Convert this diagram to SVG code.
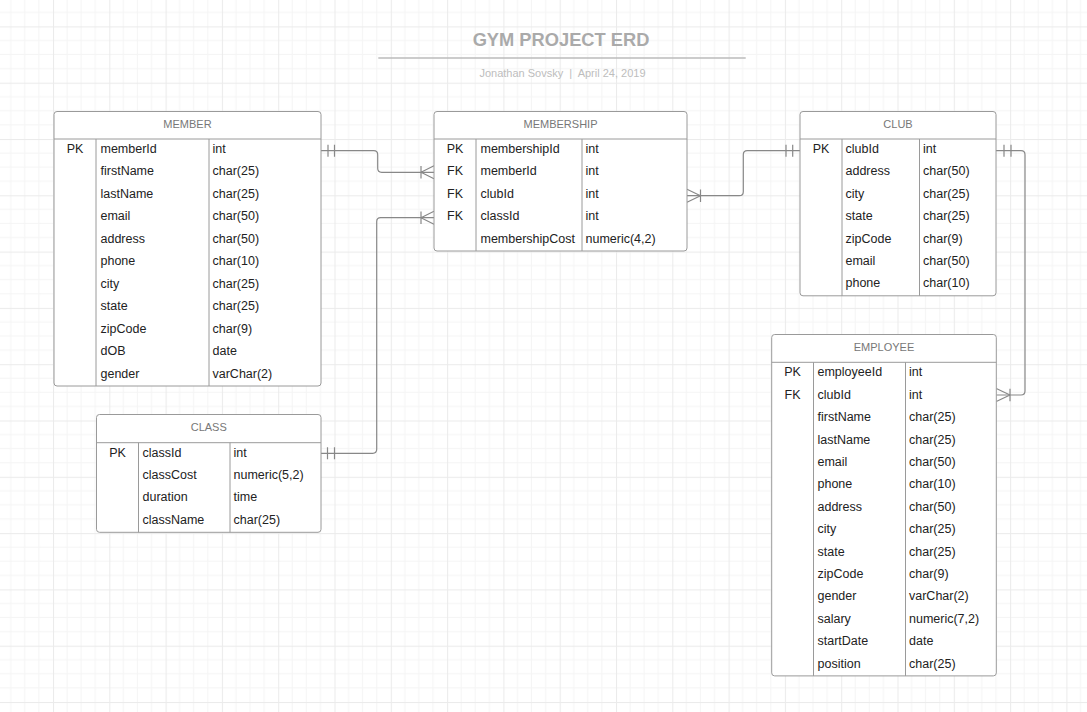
<svg xmlns="http://www.w3.org/2000/svg" width="1087" height="712" viewBox="0 0 1087 712">
<defs>
<pattern id="grid" x="53" y="26.4" width="56.3" height="56.3" patternUnits="userSpaceOnUse">
<rect x="0" y="0" width="56.3" height="56.3" fill="#ffffff"/>
<rect x="13.6" y="0" width="1" height="56.3" fill="#f5f5f5"/>
<rect x="27.6" y="0" width="1" height="56.3" fill="#f5f5f5"/>
<rect x="41.7" y="0" width="1" height="56.3" fill="#f5f5f5"/>
<rect x="0" y="13.6" width="56.3" height="1" fill="#f5f5f5"/>
<rect x="0" y="27.6" width="56.3" height="1" fill="#f5f5f5"/>
<rect x="0" y="41.7" width="56.3" height="1" fill="#f5f5f5"/>
<rect x="0" y="0" width="1" height="56.3" fill="#ebebeb"/>
<rect x="0" y="0" width="56.3" height="1" fill="#ebebeb"/>
</pattern>
<style>
.box{fill:#ffffff;stroke:#9a9a9a;stroke-width:1}
.div{stroke:#9a9a9a;stroke-width:1;fill:none}
.hdr{font-family:"Liberation Sans",Arial,sans-serif;font-size:11px;fill:#777777;text-anchor:middle}
.key{font-family:"Liberation Sans",Arial,sans-serif;font-size:12.5px;fill:#222222;text-anchor:middle}
.txt{font-family:"Liberation Sans",Arial,sans-serif;font-size:12.5px;fill:#222222}
.con{stroke:#888888;stroke-width:1.2;fill:none}
.title{font-family:"Liberation Sans",Arial,sans-serif;font-size:18.3px;font-weight:bold;fill:#aaaaaa;text-anchor:middle}
.sub{font-family:"Liberation Sans",Arial,sans-serif;font-size:11px;fill:#bdbdbd;text-anchor:middle}
</style>
</defs>
<rect x="0" y="0" width="1087" height="712" fill="url(#grid)"/>

<g id="title">
<text class="title" x="561" y="45.5">GYM PROJECT ERD</text>
<path d="M378.3 58 H745.7" stroke="#bbbbbb" stroke-width="1.5" fill="none"/>
<text class="sub" x="562.5" y="77" xml:space="preserve">Jonathan Sovsky  |  April 24, 2019</text>
</g>

<g id="connectors">
<!-- MEMBER -> MEMBERSHIP -->
<path class="con" d="M321 150.7 H373.7 Q377.7 150.7 377.7 154.7 V168.3 Q377.7 172.3 381.7 172.3 H434"/>
<path class="con" d="M328 144.7 V156.7 M334.5 144.7 V156.7"/>
<path class="con" d="M421 166 V178.6 M421 172.3 L434 165.8 M421 172.3 L434 178.8"/>
<!-- CLASS -> MEMBERSHIP -->
<path class="con" d="M321 453.3 H372.7 Q376.7 453.3 376.7 449.3 V221.7 Q376.7 217.7 380.7 217.7 H434"/>
<path class="con" d="M327.5 447.3 V459.3 M334.5 447.3 V459.3"/>
<path class="con" d="M421 211.4 V224 M421 217.7 L434 211.2 M421 217.7 L434 224.2"/>
<!-- MEMBERSHIP -> CLUB -->
<path class="con" d="M687 195.7 H739.3 Q743.3 195.7 743.3 191.7 V154.7 Q743.3 150.7 747.3 150.7 H800"/>
<path class="con" d="M700.5 189.4 V202 M700.5 195.7 L687 189.2 M700.5 195.7 L687 202.2"/>
<path class="con" d="M786 144.7 V156.7 M792.7 144.7 V156.7"/>
<!-- CLUB -> EMPLOYEE -->
<path class="con" d="M996 150.7 H1021 Q1025 150.7 1025 154.7 V391 Q1025 395 1021 395 H996.3"/>
<path class="con" d="M1004 144.7 V156.7 M1011 144.7 V156.7"/>
<path class="con" d="M1010 388.7 V401.3 M1010 395 L996.3 388.5 M1010 395 L996.3 401.5"/>
</g>

<g id="member">
<rect class="box" x="54" y="111.5" width="267" height="274.5" rx="3"/>
<path class="div" d="M54 139 H321 M96 139 V386 M209 139 V386"/>
<text class="hdr" x="187.5" y="128">MEMBER</text>
<text class="key" x="75" y="153">PK</text>
<text class="txt" x="100.5" y="153">memberId</text><text class="txt" x="212.5" y="153">int</text>
<text class="txt" x="100.5" y="175.45">firstName</text><text class="txt" x="212.5" y="175.45">char(25)</text>
<text class="txt" x="100.5" y="197.9">lastName</text><text class="txt" x="212.5" y="197.9">char(25)</text>
<text class="txt" x="100.5" y="220.35">email</text><text class="txt" x="212.5" y="220.35">char(50)</text>
<text class="txt" x="100.5" y="242.8">address</text><text class="txt" x="212.5" y="242.8">char(50)</text>
<text class="txt" x="100.5" y="265.25">phone</text><text class="txt" x="212.5" y="265.25">char(10)</text>
<text class="txt" x="100.5" y="287.7">city</text><text class="txt" x="212.5" y="287.7">char(25)</text>
<text class="txt" x="100.5" y="310.15">state</text><text class="txt" x="212.5" y="310.15">char(25)</text>
<text class="txt" x="100.5" y="332.6">zipCode</text><text class="txt" x="212.5" y="332.6">char(9)</text>
<text class="txt" x="100.5" y="355.05">dOB</text><text class="txt" x="212.5" y="355.05">date</text>
<text class="txt" x="100.5" y="377.5">gender</text><text class="txt" x="212.5" y="377.5">varChar(2)</text>
</g>

<g id="membership">
<rect class="box" x="434" y="111.5" width="253" height="139.5" rx="3"/>
<path class="div" d="M434 139 H687 M476 139 V251 M582 139 V251"/>
<text class="hdr" x="560.5" y="128">MEMBERSHIP</text>
<text class="key" x="455" y="153">PK</text>
<text class="key" x="455" y="175.4">FK</text>
<text class="key" x="455" y="197.8">FK</text>
<text class="key" x="455" y="220.2">FK</text>
<text class="txt" x="480.5" y="153">membershipId</text><text class="txt" x="585.5" y="153">int</text>
<text class="txt" x="480.5" y="175.4">memberId</text><text class="txt" x="585.5" y="175.4">int</text>
<text class="txt" x="480.5" y="197.8">clubId</text><text class="txt" x="585.5" y="197.8">int</text>
<text class="txt" x="480.5" y="220.2">classId</text><text class="txt" x="585.5" y="220.2">int</text>
<text class="txt" x="480.5" y="242.6">membershipCost</text><text class="txt" x="585.5" y="242.6">numeric(4,2)</text>
</g>

<g id="club">
<rect class="box" x="800" y="111.5" width="196" height="184.3" rx="3"/>
<path class="div" d="M800 139 H996 M842 139 V295.8 M919.5 139 V295.8"/>
<text class="hdr" x="898" y="128">CLUB</text>
<text class="key" x="821" y="153">PK</text>
<text class="txt" x="845.5" y="153">clubId</text><text class="txt" x="923" y="153">int</text>
<text class="txt" x="845.5" y="175.4">address</text><text class="txt" x="923" y="175.4">char(50)</text>
<text class="txt" x="845.5" y="197.8">city</text><text class="txt" x="923" y="197.8">char(25)</text>
<text class="txt" x="845.5" y="220.2">state</text><text class="txt" x="923" y="220.2">char(25)</text>
<text class="txt" x="845.5" y="242.6">zipCode</text><text class="txt" x="923" y="242.6">char(9)</text>
<text class="txt" x="845.5" y="265">email</text><text class="txt" x="923" y="265">char(50)</text>
<text class="txt" x="845.5" y="287.4">phone</text><text class="txt" x="923" y="287.4">char(10)</text>
</g>

<g id="class">
<rect class="box" x="96.5" y="414.5" width="224.5" height="117.8" rx="3"/>
<path class="div" d="M96.5 442.7 H321 M138.5 442.7 V532.3 M230 442.7 V532.3"/>
<text class="hdr" x="208.75" y="431">CLASS</text>
<text class="key" x="117.5" y="456.5">PK</text>
<text class="txt" x="142.5" y="456.5">classId</text><text class="txt" x="233.5" y="456.5">int</text>
<text class="txt" x="142.5" y="478.9">classCost</text><text class="txt" x="233.5" y="478.9">numeric(5,2)</text>
<text class="txt" x="142.5" y="501.3">duration</text><text class="txt" x="233.5" y="501.3">time</text>
<text class="txt" x="142.5" y="523.7">className</text><text class="txt" x="233.5" y="523.7">char(25)</text>
</g>

<g id="employee">
<rect class="box" x="771.7" y="334.5" width="224.6" height="341.4" rx="3"/>
<path class="div" d="M771.7 362.3 H996.3 M813.5 362.3 V675.9 M905.5 362.3 V675.9"/>
<text class="hdr" x="884" y="351">EMPLOYEE</text>
<text class="key" x="792.5" y="376.3">PK</text>
<text class="key" x="792.5" y="398.7">FK</text>
<text class="txt" x="817.5" y="376.3">employeeId</text><text class="txt" x="909" y="376.3">int</text>
<text class="txt" x="817.5" y="398.7">clubId</text><text class="txt" x="909" y="398.7">int</text>
<text class="txt" x="817.5" y="421.1">firstName</text><text class="txt" x="909" y="421.1">char(25)</text>
<text class="txt" x="817.5" y="443.5">lastName</text><text class="txt" x="909" y="443.5">char(25)</text>
<text class="txt" x="817.5" y="465.9">email</text><text class="txt" x="909" y="465.9">char(50)</text>
<text class="txt" x="817.5" y="488.3">phone</text><text class="txt" x="909" y="488.3">char(10)</text>
<text class="txt" x="817.5" y="510.7">address</text><text class="txt" x="909" y="510.7">char(50)</text>
<text class="txt" x="817.5" y="533.1">city</text><text class="txt" x="909" y="533.1">char(25)</text>
<text class="txt" x="817.5" y="555.5">state</text><text class="txt" x="909" y="555.5">char(25)</text>
<text class="txt" x="817.5" y="577.9">zipCode</text><text class="txt" x="909" y="577.9">char(9)</text>
<text class="txt" x="817.5" y="600.3">gender</text><text class="txt" x="909" y="600.3">varChar(2)</text>
<text class="txt" x="817.5" y="622.7">salary</text><text class="txt" x="909" y="622.7">numeric(7,2)</text>
<text class="txt" x="817.5" y="645.1">startDate</text><text class="txt" x="909" y="645.1">date</text>
<text class="txt" x="817.5" y="667.5">position</text><text class="txt" x="909" y="667.5">char(25)</text>
</g>
</svg>
